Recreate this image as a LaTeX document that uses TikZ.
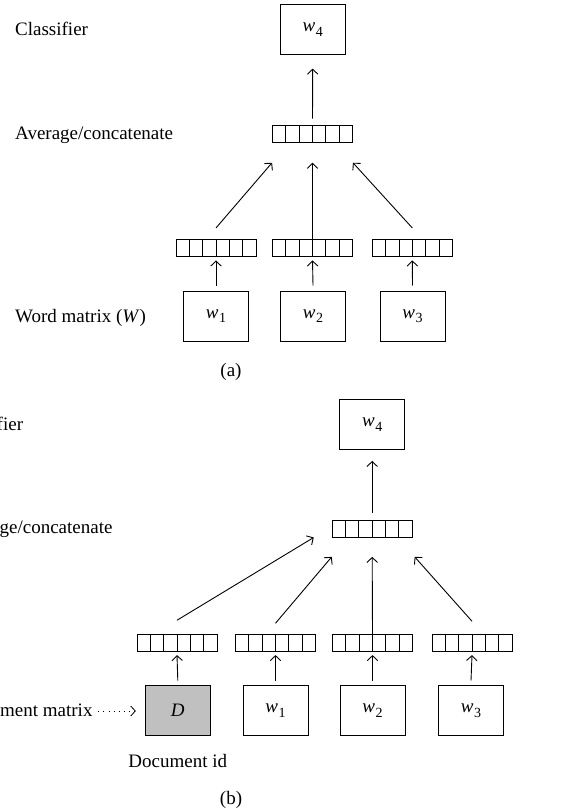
\documentclass[tikz,border=0pt]{standalone}
\usepackage{fontspec}
\setmainfont{Liberation Serif}
\usetikzlibrary{arrows.meta}
\newcommand{\wsub}[1]{\textit{w}\kern0.5pt\raisebox{-4.5pt}{\fontsize{14}{14}\selectfont #1}}
\definecolor{dgray}{RGB}{192,192,192}
\begin{document}
\begin{tikzpicture}[x=1pt,y=-1pt,
  every node/.style={font=\fontsize{19}{22}\selectfont, inner sep=0pt},
  box/.style={draw, line width=1pt, minimum width=65pt, minimum height=50pt},
  vec/.style={draw, line width=0.9pt, minimum width=80pt, minimum height=16.6pt,
    path picture={\foreach \i in {1,...,5}{\draw[line width=0.9pt]
      ([xshift=\i*13.333pt]path picture bounding box.south west) --
      ([xshift=\i*13.333pt]path picture bounding box.north west);}}},
  arr/.style={-{Straight Barb[length=5pt,width=10.5pt]}, line width=0.9pt},
  dotarr/.style={-{Straight Barb[length=4.5pt,width=10pt,line width=0.8pt]}, line width=0.9pt, dash pattern=on 0.9pt off 4.2pt},
  lblw/.style={anchor=base west},
  lble/.style={anchor=base east}]
\useasboundingbox (0,0) rectangle (573,810);
\clip (0,0) rectangle (573,810);
% ---------- (a) ----------
\node[box] (a4) at (312.7,29.7) {\wsub{4}};
\node[lblw] (acls) at (15,36) {Classifier};
\node[vec] (atop) at (312.5,134) {};
\node[lblw] (aavg) at (15,140) {Average/concatenate};
\node[vec] (av1) at (216,247.7) {};
\node[vec] (av2) at (312.5,247.7) {};
\node[vec] (av3) at (412.3,247.7) {};
\node[box] (aw1) at (216,316) {\wsub{1}};
\node[box] (aw2) at (313,316) {\wsub{2}};
\node[box] (aw3) at (412.5,316) {\wsub{3}};
\node[lblw] (aword) at (15,322) {Word matrix (\textit{W})};
\node (acap) at (231,372) {(a)};
\draw[arr] ([yshift=5pt]aw1.north) -- ([yshift=-4pt]av1.south);
\draw[arr] ([yshift=5pt]aw2.north) -- ([yshift=-4pt]av2.south);
\draw[arr] ([yshift=5pt]aw3.north) -- ([yshift=-4pt]av3.south);
\draw[arr] ([yshift=11pt]av1.north) -- ([yshift=-20pt]atop.south west);
\draw[arr] (av2.north) -- ([yshift=-20pt]atop.south);
\draw[arr] ([yshift=11pt]av3.north) -- ([yshift=-20pt]atop.south east);
\draw[arr] ([yshift=6.7pt]atop.north) -- ([yshift=-13.4pt]a4.south);
% ---------- (b) ----------
\node[box] (b4) at (372.2,424.7) {\wsub{4}};
\node[lble] (bcls) at (23.3,430) {Classifier};
\node[vec] (btop) at (372.2,528.7) {};
\node[lble] (bavg) at (112.7,533) {Average/concatenate};
\node[vec] (bvD) at (177,643) {};
\node[vec] (bv1) at (275.5,643) {};
\node[vec] (bv2) at (372.5,643) {};
\node[vec] (bv3) at (472,643) {};
\node[box, fill=dgray] (bD) at (177.8,710.7) {\textit{D}};
\node[box] (bw1) at (275.5,710.7) {\wsub{1}};
\node[box] (bw2) at (372.5,710.7) {\wsub{2}};
\node[box] (bw3) at (471,710.7) {\wsub{3}};
\node[lble] (bdoc) at (92.7,716) {Document matrix};
\coordinate (bdotstart) at (98.3,711);
\node (bid) at (177.8,761) {Document id};
\node (bcap) at (231,800) {(b)};
\draw[dotarr] (bdotstart) -- ([xshift=-9pt]bD.west |- bdotstart);
\draw[arr] ([yshift=4.7pt]bD.north) -- ([yshift=-3.3pt]bvD.south);
\draw[arr] ([yshift=4.7pt]bw1.north) -- ([yshift=-3.3pt]bv1.south);
\draw[arr] ([yshift=4.7pt]bw2.north) -- ([yshift=-3.3pt]bv2.south);
\draw[arr] ([yshift=4.7pt]bw3.north) -- ([yshift=-3.3pt]bv3.south);
\draw[arr] ([yshift=14pt]bvD.north) -- ([xshift=-18pt]btop.south west);
\draw[arr] ([yshift=11pt]bv1.north) -- ([yshift=-19.4pt]btop.south west);
\draw[arr] (bv2.north) -- ([yshift=-19.4pt]btop.south);
\draw[arr] ([yshift=13pt]bv3.north) -- ([xshift=2pt,yshift=-19.4pt]btop.south east);
\draw[arr] ([yshift=7.3pt]btop.north) -- ([yshift=-10.7pt]b4.south);
\end{tikzpicture}
\end{document}
